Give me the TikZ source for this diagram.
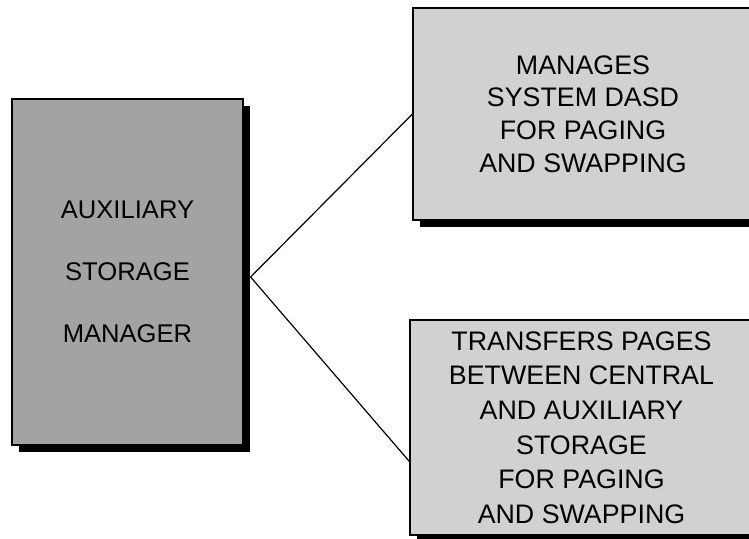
\documentclass[tikz,border=0pt]{standalone}
\usepackage{fontspec}
\setmainfont{Liberation Sans}
\usetikzlibrary{positioning,shadows,calc}

\begin{document}
\begin{tikzpicture}[
    x=0.5pt, y=-0.5pt,
    panel/.style={rectangle, draw, line width=0.6pt, align=center,
      drop shadow={shadow xshift=3.5pt, shadow yshift=-3.5pt, fill=black, opacity=1}},
    link/.style={line width=0.6pt}
]
\useasboundingbox (0,0) rectangle (749,538);

% Manager
\node[panel, fill=black!36, minimum width=115.5pt, minimum height=173pt,
      font=\fontsize{12.8}{31}\selectfont] (asm) at (127.5,272) {AUXILIARY\\STORAGE\\MANAGER};

% DASD management
\node[panel, fill=black!18, minimum width=170pt, minimum height=106pt,
      font=\fontsize{13.4}{16.3}\selectfont] (dasd) at (583,114) {MANAGES\\SYSTEM DASD\\FOR PAGING\\AND SWAPPING};

% Page transfer
\node[panel, fill=black!18, minimum width=171.5pt, minimum height=107.5pt,
      font=\fontsize{13.4}{17.3}\selectfont] (xfer) at (581.5,427.5) {TRANSFERS PAGES\\BETWEEN CENTRAL\\AND AUXILIARY\\STORAGE\\FOR PAGING\\AND SWAPPING};

% Lines
\coordinate (fork) at ([xshift=3.5pt,yshift=-2.5pt]asm.east);
\draw[link] (fork) -- (dasd.west);
\draw[link] (fork) -- ([yshift=-17pt]xfer.west);

\end{tikzpicture}
\end{document}
